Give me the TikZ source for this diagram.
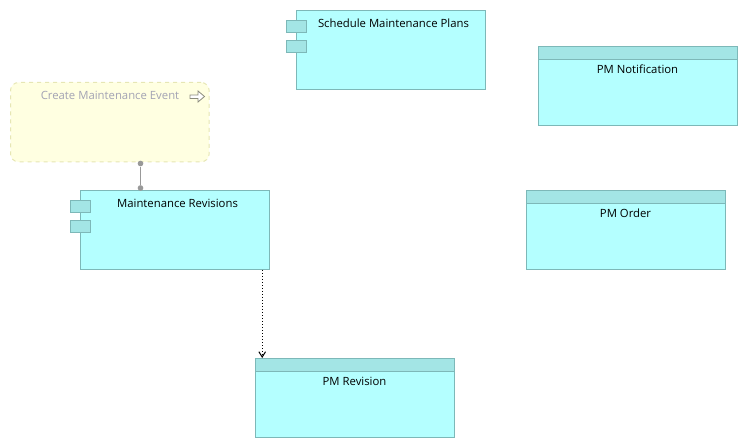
\documentclass[tikz,border=0pt]{standalone}
\usepackage{fontspec}
\setmainfont{Open Sans}
\usetikzlibrary{arrows.meta}

\definecolor{boxfill}{HTML}{B4FFFF}
\definecolor{boxhead}{HTML}{A3E5E5}
\definecolor{boxline}{HTML}{7DB8B8}
\definecolor{eventfill}{HTML}{FFFFE1}
\definecolor{eventline}{HTML}{E6E6B4}
\definecolor{eventtext}{HTML}{A3A3B4}
\definecolor{eventicon}{HTML}{8C8C7D}

\tikzset{
    bodybox/.style={draw=boxline, fill=boxfill, line width=0.75pt, inner sep=0pt, anchor=north west},
    compbox/.style={bodybox, minimum width=142pt, minimum height=59.25pt},
    classbox/.style={bodybox, minimum width=149.5pt, minimum height=59.25pt},
    headbar/.style={bodybox, fill=boxhead, minimum width=149.5pt, minimum height=9.75pt},
    tabbox/.style={bodybox, fill=boxhead, minimum width=15pt, minimum height=9.25pt},
    boxtext/.style={font=\fontsize{8.5pt}{10pt}\selectfont, text=black, inner sep=0pt, anchor=center},
    eventbox/.style={draw=eventline, fill=eventfill, dashed, line width=0.75pt, rounded corners=6pt,
        inner sep=0pt, anchor=north west, minimum width=149pt, minimum height=59.5pt},
    assocdot/.style={circle, fill=gray!80, inner sep=0pt, minimum size=4.25pt},
    assocline/.style={draw=gray!80, line width=1pt},
    accessline/.style={line width=0.75pt, dash pattern=on 0.75pt off 1.5pt,
        -{Straight Barb[length=4pt,width=5pt]}}
}

\begin{document}
\begin{tikzpicture}[x=0.75pt, y=-0.75pt]

    \useasboundingbox (0,0) rectangle (748,448);

    % business event
    \node[eventbox] (event) at (10,82) {};
    \node[boxtext, text=eventtext] (eventtext) at (110,95) {Create Maintenance Event};
    \draw[eventicon, fill=white, line width=0.6pt] (190,95) -- (198,95) -- (198,91) -- (204.5,96.5)
        -- (198,102) -- (198,98.5) -- (190,98.5) -- cycle;

    % application components
    \foreach \name/\x/\y/\tx/\label in {
        schedule/296/10/393.5/Schedule Maintenance Plans,
        revisions/80/190/177.5/Maintenance Revisions} {
        \node[compbox] (\name) at (\x,\y) {};
        \node[tabbox] (\name tabA) at (\x-10,\y+10) {};
        \node[tabbox] (\name tabB) at (\x-10,\y+30) {};
        \node[boxtext] (\name text) at (\tx,\y+13) {\label};
    }

    % data objects
    \foreach \name/\x/\y/\label in {
        notification/538/46/PM Notification,
        order/526/190/PM Order,
        revision/255/358/PM Revision} {
        \node[classbox] (\name) at (\x,\y) {};
        \node[headbar] (\name head) at (\name.north west) {};
        \node[boxtext] (\name text) at (\x+99.5,\y+23) {\label};
    }

    % connectors
    \node[assocdot] (eventdot) at (140.5,163.5) {};
    \node[assocdot] (revisionsdot) at (140.5,188) {};
    \draw[assocline] (eventdot) -- (revisionsdot);
    \coordinate (accessend) at ([xshift=5.4pt]revision.north west);
    \draw[accessline] (revisions.south -| accessend) -- (accessend);

\end{tikzpicture}
\end{document}
